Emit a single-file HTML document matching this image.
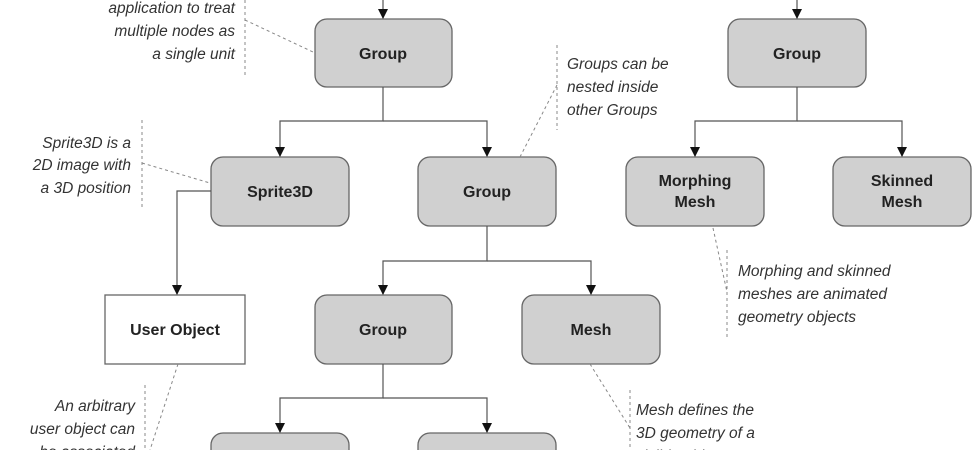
<!DOCTYPE html>
<html><head><style>html,body{margin:0;padding:0;background:#fff;width:980px;height:450px;overflow:hidden}svg{display:block}</style></head><body>
<svg width="980" height="450" viewBox="0 0 980 450" font-family="Liberation Sans, sans-serif">
<defs><marker id="a" markerWidth="10" markerHeight="10" refX="9" refY="5" orient="auto" markerUnits="userSpaceOnUse"><path d="M0,0 L10,5 L0,10 z" fill="#111"/></marker></defs>
<g fill="#d0d0d0" stroke="#666" stroke-width="1.3">
<rect x="315" y="19" width="137" height="68" rx="12"/>
<rect x="728" y="19" width="138" height="68" rx="12"/>
<rect x="211" y="157" width="138" height="69" rx="12"/>
<rect x="418" y="157" width="138" height="69" rx="12"/>
<rect x="626" y="157" width="138" height="69" rx="12"/>
<rect x="833" y="157" width="138" height="69" rx="12"/>
<rect x="315" y="295" width="137" height="69" rx="12"/>
<rect x="522" y="295" width="138" height="69" rx="12"/>
<rect x="211" y="433" width="138" height="40" rx="12"/>
<rect x="418" y="433" width="138" height="40" rx="12"/>
<rect x="105" y="295" width="140" height="69" fill="#fff" rx="0"/>
</g>
<g stroke="#555" stroke-width="1.2" fill="none">
<path d="M383,0 V18" marker-end="url(#a)"/>
<path d="M797,0 V18" marker-end="url(#a)"/>
<path d="M383,87 V121 H280 V156" marker-end="url(#a)"/>
<path d="M383,121 H487 V156" marker-end="url(#a)"/>
<path d="M797,87 V121 H695 V156" marker-end="url(#a)"/>
<path d="M797,121 H902 V156" marker-end="url(#a)"/>
<path d="M487,226 V261 H383 V294" marker-end="url(#a)"/>
<path d="M487,261 H591 V294" marker-end="url(#a)"/>
<path d="M383,364 V398 H280 V432" marker-end="url(#a)"/>
<path d="M383,398 H487 V432" marker-end="url(#a)"/>
<path d="M211,191 H177 V294" marker-end="url(#a)"/>
</g>
<g stroke="#888" stroke-width="1" stroke-dasharray="3,3" fill="none">
<path d="M245,0 V75 M245,20 L313,52"/>
<path d="M142,120 V208 M142,163 L210,183"/>
<path d="M557,45 V130 M557,85 L520,157"/>
<path d="M727,250 V340 M713,228 L727,292"/>
<path d="M630,390 V450 M590,364 L630,428"/>
<path d="M145,385 V450 M178,364 L150,450"/>
</g>
<g font-weight="bold" font-size="16" text-anchor="middle" fill="#222">
<text x="383" y="59">Group</text>
<text x="797" y="59">Group</text>
<text x="280" y="197">Sprite3D</text>
<text x="487" y="197">Group</text>
<text x="695" y="186">Morphing</text><text x="695" y="207">Mesh</text>
<text x="902" y="186">Skinned</text><text x="902" y="207">Mesh</text>
<text x="175" y="335">User Object</text>
<text x="383" y="335">Group</text>
<text x="591" y="335">Mesh</text>
</g>
<g font-style="italic" font-size="15.5" fill="#333">
<g text-anchor="end">
<text x="235" y="13">application to treat</text>
<text x="235" y="36">multiple nodes as</text>
<text x="235" y="59">a single unit</text>
<text x="131" y="148">Sprite3D is a</text>
<text x="131" y="170">2D image with</text>
<text x="131" y="193">a 3D position</text>
<text x="135" y="411">An arbitrary</text>
<text x="135" y="434">user object can</text>
<text x="135" y="457">be associated</text>
</g>
<text x="567" y="69">Groups can be</text>
<text x="567" y="92">nested inside</text>
<text x="567" y="115">other Groups</text>
<text x="738" y="276">Morphing and skinned</text>
<text x="738" y="299">meshes are animated</text>
<text x="738" y="322">geometry objects</text>
<text x="636" y="415">Mesh defines the</text>
<text x="636" y="438">3D geometry of a</text>
<text x="636" y="461">visible object</text>
</g>
</svg>
</body></html>
